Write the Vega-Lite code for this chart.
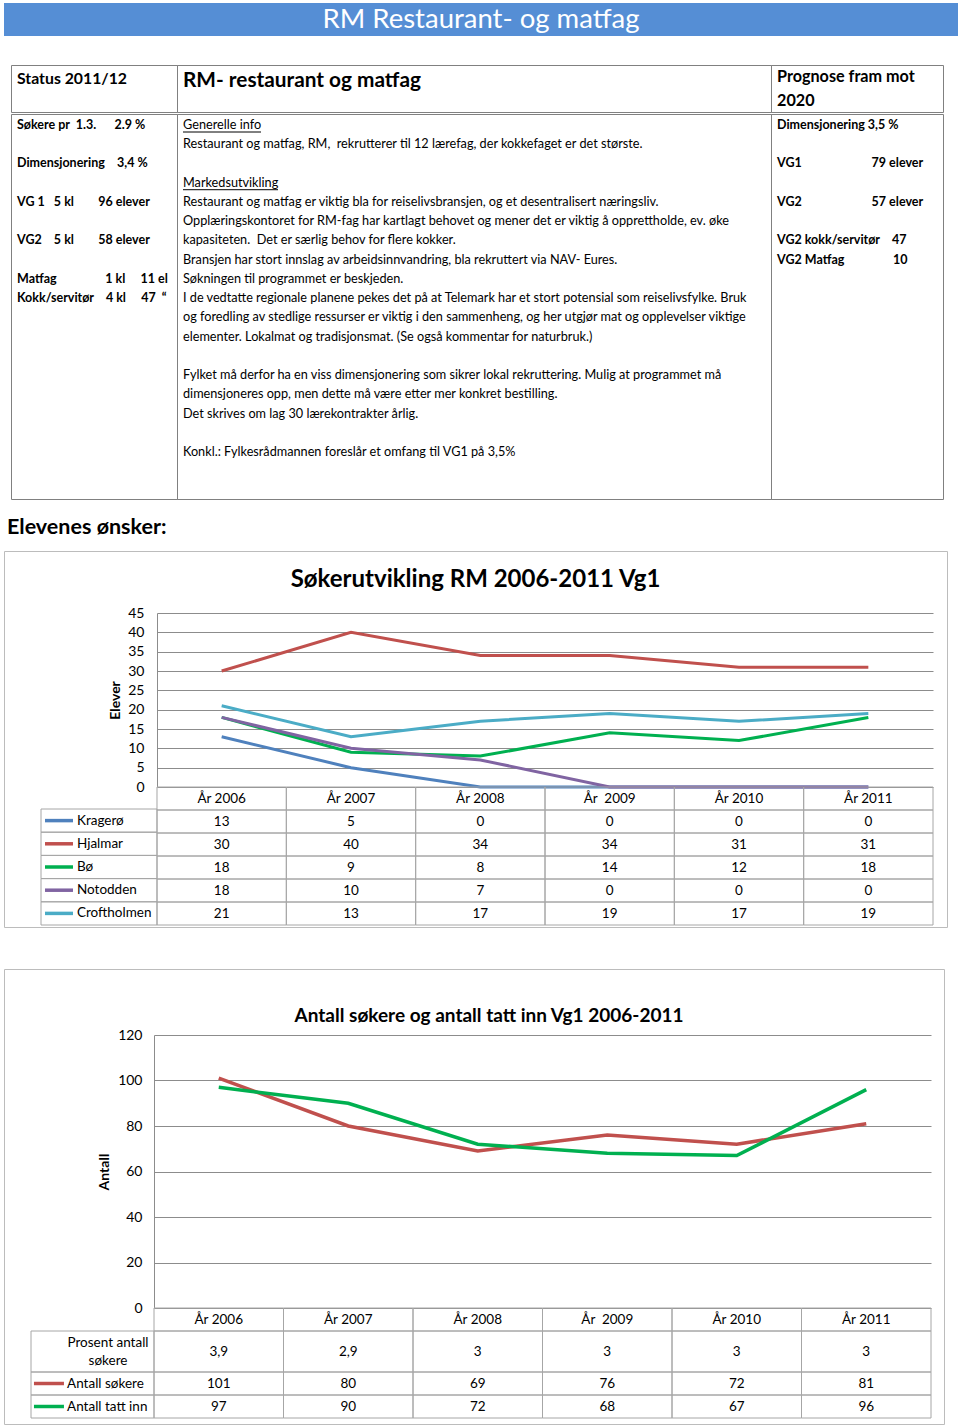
{
  "$schema": "https://vega.github.io/schema/vega-lite/v6.json",
  "padding": {"left": 3, "top": 3, "right": 0, "bottom": 0},
  "background": "white",
  "spacing": 0,
  "resolve": {"scale": {"color": "independent", "x": "independent", "y": "independent"}},
  "datasets": {
    "years": [
      {"year": "År 2006"}, {"year": "År 2007"}, {"year": "År 2008"},
      {"year": "År\u00a0 2009"}, {"year": "År 2010"}, {"year": "År 2011"}
    ],
    "c1": [
      {"year": "År 2006", "school": "Kragerø", "value": 13},
      {"year": "År 2007", "school": "Kragerø", "value": 5},
      {"year": "År 2008", "school": "Kragerø", "value": 0},
      {"year": "År\u00a0 2009", "school": "Kragerø", "value": 0},
      {"year": "År 2010", "school": "Kragerø", "value": 0},
      {"year": "År 2011", "school": "Kragerø", "value": 0},
      {"year": "År 2006", "school": "Hjalmar", "value": 30},
      {"year": "År 2007", "school": "Hjalmar", "value": 40},
      {"year": "År 2008", "school": "Hjalmar", "value": 34},
      {"year": "År\u00a0 2009", "school": "Hjalmar", "value": 34},
      {"year": "År 2010", "school": "Hjalmar", "value": 31},
      {"year": "År 2011", "school": "Hjalmar", "value": 31},
      {"year": "År 2006", "school": "Bø", "value": 18},
      {"year": "År 2007", "school": "Bø", "value": 9},
      {"year": "År 2008", "school": "Bø", "value": 8},
      {"year": "År\u00a0 2009", "school": "Bø", "value": 14},
      {"year": "År 2010", "school": "Bø", "value": 12},
      {"year": "År 2011", "school": "Bø", "value": 18},
      {"year": "År 2006", "school": "Notodden", "value": 18},
      {"year": "År 2007", "school": "Notodden", "value": 10},
      {"year": "År 2008", "school": "Notodden", "value": 7},
      {"year": "År\u00a0 2009", "school": "Notodden", "value": 0},
      {"year": "År 2010", "school": "Notodden", "value": 0},
      {"year": "År 2011", "school": "Notodden", "value": 0},
      {"year": "År 2006", "school": "Croftholmen", "value": 21},
      {"year": "År 2007", "school": "Croftholmen", "value": 13},
      {"year": "År 2008", "school": "Croftholmen", "value": 17},
      {"year": "År\u00a0 2009", "school": "Croftholmen", "value": 19},
      {"year": "År 2010", "school": "Croftholmen", "value": 17},
      {"year": "År 2011", "school": "Croftholmen", "value": 19}
    ],
    "schools": [
      {"school": "Kragerø"}, {"school": "Hjalmar"}, {"school": "Bø"},
      {"school": "Notodden"}, {"school": "Croftholmen"}
    ],
    "c2": [
      {"year": "År 2006", "series": "Antall søkere", "value": 101},
      {"year": "År 2007", "series": "Antall søkere", "value": 80},
      {"year": "År 2008", "series": "Antall søkere", "value": 69},
      {"year": "År\u00a0 2009", "series": "Antall søkere", "value": 76},
      {"year": "År 2010", "series": "Antall søkere", "value": 72},
      {"year": "År 2011", "series": "Antall søkere", "value": 81},
      {"year": "År 2006", "series": "Antall tatt inn", "value": 97},
      {"year": "År 2007", "series": "Antall tatt inn", "value": 90},
      {"year": "År 2008", "series": "Antall tatt inn", "value": 72},
      {"year": "År\u00a0 2009", "series": "Antall tatt inn", "value": 68},
      {"year": "År 2010", "series": "Antall tatt inn", "value": 67},
      {"year": "År 2011", "series": "Antall tatt inn", "value": 96}
    ],
    "pct": [
      {"year": "År 2006", "pct": 3.9},
      {"year": "År 2007", "pct": 2.9},
      {"year": "År 2008", "pct": 3},
      {"year": "År\u00a0 2009", "pct": 3},
      {"year": "År 2010", "pct": 3},
      {"year": "År 2011", "pct": 3}
    ],
    "series2": [{"series": "Antall søkere"}, {"series": "Antall tatt inn"}],
    "pctlabel": [{"label": ["Prosent antall", "søkere"]}]
  },
  "vconcat": [
    {
      "width": 954, "height": 33,
      "view": {"fill": "#558ED5", "stroke": null},
      "data": {"values": [{"t": "RM Restaurant- og matfag"}]},
      "mark": {"type": "text", "color": "#ffffff", "fontSize": 27.5, "baseline": "middle"},
      "encoding": {"text": {"field": "t"}}
    },
    {"width": 10, "height": 28, "view": {"fill": "#ffffff"}, "data": {"values": []}, "mark": {"type": "point", "opacity": 0}},
    {
      "spacing": 0,
      "hconcat": [
        {"width": 6, "height": 432, "view": {"fill": "#ffffff"}, "data": {"values": []}, "mark": {"type": "point", "opacity": 0}},
        {
          "spacing": 0,
          "vconcat": [
            {
              "spacing": 0, "bounds": "flush",
              "hconcat": [
                {
                  "width": 166, "height": 47, "view": {"stroke": "#808080"},
                  "data": {"values": [{"line": 0, "text": "Status 2011/12"}]},
                  "mark": {"type": "text", "align": "left", "baseline": "middle", "x": 6, "fontSize": 15.8, "fontWeight": "bold"},
                  "encoding": {
                    "y": {"field": "line", "type": "quantitative", "scale": {"domain": [0, 1], "range": [14, 39]}, "axis": null},
                    "text": {"field": "text"}
                  }
                },
                {
                  "width": 594, "height": 47, "view": {"stroke": "#808080"},
                  "data": {"values": [{"line": 0, "text": "RM- restaurant og matfag"}]},
                  "mark": {"type": "text", "align": "left", "baseline": "middle", "x": 6, "fontSize": 20.8, "fontWeight": "bold"},
                  "encoding": {
                    "y": {"field": "line", "type": "quantitative", "scale": {"domain": [0, 1], "range": [16, 41]}, "axis": null},
                    "text": {"field": "text"}
                  }
                },
                {
                  "width": 172, "height": 47, "view": {"stroke": "#808080"},
                  "data": {"values": [{"line": 0, "text": "Prognose fram mot"}, {"line": 1, "text": "2020"}]},
                  "mark": {"type": "text", "align": "left", "baseline": "middle", "x": 6, "fontSize": 16.2, "fontWeight": "bold"},
                  "encoding": {
                    "y": {"field": "line", "type": "quantitative", "scale": {"domain": [0, 1], "range": [12, 36]}, "axis": null},
                    "text": {"field": "text"}
                  }
                }
              ]
            },
            {
              "spacing": 0, "bounds": "flush",
              "hconcat": [
                {
                  "width": 166, "height": 385, "view": {"stroke": "#808080"},
                  "data": {"values": [
                    {"line": 0, "text": "Søkere pr\u00a0\u00a01.3.\u00a0\u00a0\u00a0\u00a0\u00a0\u00a02.9 %"},
                    {"line": 2, "text": "Dimensjonering\u00a0\u00a0\u00a0\u00a03,4 %"},
                    {"line": 4, "text": "VG 1\u00a0\u00a0\u00a05 kl\u00a0\u00a0\u00a0\u00a0\u00a0\u00a0\u00a0\u00a096 elever"},
                    {"line": 6, "text": "VG2\u00a0\u00a0\u00a0\u00a05 kl\u00a0\u00a0\u00a0\u00a0\u00a0\u00a0\u00a0\u00a058 elever"},
                    {"line": 8, "text": "Matfag\u00a0\u00a0\u00a0\u00a0\u00a0\u00a0\u00a0\u00a0\u00a0\u00a0\u00a0\u00a0\u00a0\u00a0\u00a0\u00a01 kl\u00a0\u00a0\u00a0\u00a0\u00a011 el"},
                    {"line": 9, "text": "Kokk/servitør\u00a0\u00a0\u00a0\u00a04 kl\u00a0\u00a0\u00a0\u00a0\u00a047\u00a0\u00a0“"}
                  ]},
                  "mark": {"type": "text", "align": "left", "baseline": "middle", "x": 6, "fontSize": 12.5, "fontWeight": "bold"},
                  "encoding": {
                    "y": {"field": "line", "type": "quantitative", "scale": {"domain": [0, 17], "range": [11, 338]}, "axis": null},
                    "text": {"field": "text"}
                  }
                },
                {
                  "width": 594, "height": 385, "view": {"stroke": "#808080"},
                  "encoding": {
                    "y": {"field": "line", "type": "quantitative", "scale": {"domain": [0, 17], "range": [11, 338], "nice": false, "zero": false}, "axis": null}
                  },
                  "layer": [
                    {
                      "data": {"values": [
                        {"line": 0, "text": "Generelle info"},
                        {"line": 1, "text": "Restaurant og matfag, RM,\u00a0 rekrutterer til 12 lærefag, der kokkefaget er det største."},
                        {"line": 3, "text": "Markedsutvikling"},
                        {"line": 4, "text": "Restaurant og matfag er viktig bla for reiselivsbransjen, og et desentralisert næringsliv."},
                        {"line": 5, "text": "Opplæringskontoret for RM-fag har kartlagt behovet og mener det er viktig å opprettholde, ev. øke"},
                        {"line": 6, "text": "kapasiteten.\u00a0 Det er særlig behov for flere kokker."},
                        {"line": 7, "text": "Bransjen har stort innslag av arbeidsinnvandring, bla rekruttert via NAV- Eures."},
                        {"line": 8, "text": "Søkningen til programmet er beskjeden."},
                        {"line": 9, "text": "I de vedtatte regionale planene pekes det på at Telemark har et stort potensial som reiselivsfylke. Bruk"},
                        {"line": 10, "text": "og foredling av stedlige ressurser er viktig i den sammenheng, og her utgjør mat og opplevelser viktige"},
                        {"line": 11, "text": "elementer. Lokalmat og tradisjonsmat. (Se også kommentar for naturbruk.)"},
                        {"line": 13, "text": "Fylket må derfor ha en viss dimensjonering som sikrer lokal rekruttering. Mulig at programmet må"},
                        {"line": 14, "text": "dimensjoneres opp, men dette må være etter mer konkret bestilling."},
                        {"line": 15, "text": "Det skrives om lag 30 lærekontrakter årlig."},
                        {"line": 17, "text": "Konkl.: Fylkesrådmannen foreslår et omfang til VG1 på 3,5%"}
                      ]},
                      "mark": {"type": "text", "align": "left", "baseline": "middle", "x": 6, "fontSize": 12.7},
                      "encoding": {"text": {"field": "text"}}
                    },
                    {
                      "data": {"values": [{"line": 0}]},
                      "mark": {"type": "rule", "x": 6, "x2": 84, "color": "#000000", "strokeWidth": 1},
                      "encoding": {"yOffset": {"value": 7}}
                    },
                    {
                      "data": {"values": [{"line": 3}]},
                      "mark": {"type": "rule", "x": 6, "x2": 101, "color": "#000000", "strokeWidth": 1},
                      "encoding": {"yOffset": {"value": 7}}
                    }
                  ]
                },
                {
                  "width": 172, "height": 385, "view": {"stroke": "#808080"},
                  "data": {"values": [
                    {"line": 0, "text": "Dimensjonering 3,5 %"},
                    {"line": 2, "text": "VG1\u00a0\u00a0\u00a0\u00a0\u00a0\u00a0\u00a0\u00a0\u00a0\u00a0\u00a0\u00a0\u00a0\u00a0\u00a0\u00a0\u00a0\u00a0\u00a0\u00a0\u00a0\u00a0\u00a079 elever"},
                    {"line": 4, "text": "VG2\u00a0\u00a0\u00a0\u00a0\u00a0\u00a0\u00a0\u00a0\u00a0\u00a0\u00a0\u00a0\u00a0\u00a0\u00a0\u00a0\u00a0\u00a0\u00a0\u00a0\u00a0\u00a0\u00a057 elever"},
                    {"line": 6, "text": "VG2 kokk/servitør\u00a0\u00a0\u00a0\u00a047"},
                    {"line": 7, "text": "VG2 Matfag\u00a0\u00a0\u00a0\u00a0\u00a0\u00a0\u00a0\u00a0\u00a0\u00a0\u00a0\u00a0\u00a0\u00a0\u00a0\u00a010"}
                  ]},
                  "mark": {"type": "text", "align": "left", "baseline": "middle", "x": 6, "fontSize": 12.5, "fontWeight": "bold"},
                  "encoding": {
                    "y": {"field": "line", "type": "quantitative", "scale": {"domain": [0, 17], "range": [11, 338]}, "axis": null},
                    "text": {"field": "text"}
                  }
                }
              ]
            }
          ]
        }
      ]
    },
    {
      "width": 300, "height": 50, "view": {"fill": "#ffffff"},
      "data": {"values": [{"t": "Elevenes ønsker:"}]},
      "mark": {"type": "text", "align": "left", "baseline": "middle", "x": 3, "y": 28, "fontSize": 21.5, "fontWeight": "bold"},
      "encoding": {"text": {"field": "t"}}
    },
    {
      "width": 943, "height": 376,
      "view": {"stroke": "#bcbcbc"},
      "resolve": {"scale": {"x": "independent", "y": "independent"}},
      "layer": [
        {
          "data": {"values": [{"t": "Søkerutvikling RM 2006-2011 Vg1"}]},
          "mark": {"type": "text", "fontSize": 24, "fontWeight": "bold", "baseline": "middle", "y": 29},
          "encoding": {"text": {"field": "t"}}
        },
        {
          "data": {"name": "c1"},
          "mark": {"type": "line", "strokeWidth": 3},
          "encoding": {
            "x": {"field": "year", "type": "nominal", "bandPosition": 0.5, "scale": {"type": "band", "domain": ["År 2006", "År 2007", "År 2008", "År\u00a0 2009", "År 2010", "År 2011"], "range": [153, 929], "paddingInner": 0, "paddingOuter": 0}, "axis": null},
            "y": {"field": "value", "type": "quantitative", "scale": {"domain": [0, 45], "range": [236, 62], "nice": false, "zero": false},
                  "axis": {"values": [0, 5, 10, 15, 20, 25, 30, 35, 40, 45], "grid": true, "offset": -153, "title": "Elever", "titlePadding": 5, "labelPadding": 13}},
            "color": {"field": "school", "type": "nominal", "scale": {"domain": ["Kragerø", "Hjalmar", "Bø", "Notodden", "Croftholmen"], "range": ["#4F81BD", "#C0504D", "#00B050", "#8064A2", "#4BACC6"]}, "legend": null}
          }
        },
        {
          "encoding": {
            "x": {"field": "year", "type": "nominal", "scale": {"type": "band", "domain": ["År 2006", "År 2007", "År 2008", "År\u00a0 2009", "År 2010", "År 2011"], "range": [153, 929], "paddingInner": 0, "paddingOuter": 0}, "axis": null}
          },
          "layer": [
            {
              "data": {"name": "years"},
              "mark": {"type": "rect", "fillOpacity": 0, "stroke": "#a6a6a6", "strokeWidth": 1},
              "encoding": {"y": {"datum": "hdr", "type": "nominal", "scale": {"type": "band", "domain": ["hdr", "Kragerø", "Hjalmar", "Bø", "Notodden", "Croftholmen"], "range": [236, 374], "paddingInner": 0, "paddingOuter": 0}, "axis": null}}
            },
            {
              "data": {"name": "years"},
              "mark": {"type": "text", "baseline": "middle"},
              "encoding": {"y": {"datum": "hdr", "type": "nominal"}, "text": {"field": "year"}}
            },
            {
              "data": {"name": "c1"},
              "mark": {"type": "rect", "fillOpacity": 0, "stroke": "#a6a6a6", "strokeWidth": 1},
              "encoding": {"y": {"field": "school", "type": "nominal"}}
            },
            {
              "data": {"name": "c1"},
              "mark": {"type": "text", "baseline": "middle"},
              "encoding": {"y": {"field": "school", "type": "nominal"}, "text": {"field": "value"}}
            }
          ]
        },
        {
          "data": {"name": "schools"},
          "encoding": {
            "y": {"field": "school", "type": "nominal", "scale": {"type": "band", "domain": ["Kragerø", "Hjalmar", "Bø", "Notodden", "Croftholmen"], "range": [258, 374], "paddingInner": 0, "paddingOuter": 0}, "axis": null}
          },
          "layer": [
            {
              "mark": {"type": "rect", "fillOpacity": 0, "stroke": "#a6a6a6", "strokeWidth": 1},
              "encoding": {"x": {"datum": "legend", "type": "nominal", "scale": {"type": "band", "domain": ["legend"], "range": [37, 153], "paddingInner": 0, "paddingOuter": 0}, "axis": null}}
            },
            {
              "mark": {"type": "point", "shape": "M-1,0L1,0", "size": 784, "strokeWidth": 3.5, "filled": false, "opacity": 1},
              "encoding": {
                "x": {"datum": "legend", "type": "nominal", "bandPosition": 0.155},
                "color": {"field": "school", "type": "nominal", "scale": {"domain": ["Kragerø", "Hjalmar", "Bø", "Notodden", "Croftholmen"], "range": ["#4F81BD", "#C0504D", "#00B050", "#8064A2", "#4BACC6"]}, "legend": null}
              }
            },
            {
              "mark": {"type": "text", "align": "left", "baseline": "middle"},
              "encoding": {"x": {"datum": "legend", "type": "nominal", "bandPosition": 0.31}, "text": {"field": "school"}}
            }
          ]
        }
      ]
    },
    {"width": 10, "height": 40, "view": {"fill": "#ffffff"}, "data": {"values": []}, "mark": {"type": "point", "opacity": 0}},
    {
      "width": 940, "height": 455,
      "view": {"stroke": "#bcbcbc"},
      "resolve": {"scale": {"x": "independent", "y": "independent"}},
      "layer": [
        {
          "data": {"values": [{"t": "Antall søkere og antall tatt inn Vg1 2006-2011"}]},
          "mark": {"type": "text", "fontSize": 19, "fontWeight": "bold", "baseline": "middle", "y": 47, "dx": 15},
          "encoding": {"text": {"field": "t"}}
        },
        {
          "data": {"name": "c2"},
          "mark": {"type": "line", "strokeWidth": 3.5},
          "encoding": {
            "x": {"field": "year", "type": "nominal", "bandPosition": 0.5, "scale": {"type": "band", "domain": ["År 2006", "År 2007", "År 2008", "År\u00a0 2009", "År 2010", "År 2011"], "range": [150, 927], "paddingInner": 0, "paddingOuter": 0}, "axis": null},
            "y": {"field": "value", "type": "quantitative", "scale": {"domain": [0, 120], "range": [339, 66], "nice": false, "zero": false},
                  "axis": {"values": [0, 20, 40, 60, 80, 100, 120], "grid": true, "offset": -150, "title": "Antall", "titlePadding": 6, "labelPadding": 12}},
            "color": {"field": "series", "type": "nominal", "scale": {"domain": ["Antall søkere", "Antall tatt inn"], "range": ["#C0504D", "#00B050"]}, "legend": null}
          }
        },
        {
          "data": {"name": "years"},
          "encoding": {
            "x": {"field": "year", "type": "nominal", "scale": {"type": "band", "domain": ["År 2006", "År 2007", "År 2008", "År\u00a0 2009", "År 2010", "År 2011"], "range": [150, 927], "paddingInner": 0, "paddingOuter": 0}, "axis": null},
            "y": {"datum": "hdr", "type": "nominal", "scale": {"type": "band", "domain": ["hdr"], "range": [339, 362], "paddingInner": 0, "paddingOuter": 0}, "axis": null}
          },
          "layer": [
            {"mark": {"type": "rect", "fillOpacity": 0, "stroke": "#a6a6a6", "strokeWidth": 1}},
            {"mark": {"type": "text", "baseline": "middle"}, "encoding": {"text": {"field": "year"}}}
          ]
        },
        {
          "data": {"name": "pct"},
          "encoding": {
            "x": {"field": "year", "type": "nominal", "scale": {"type": "band", "domain": ["År 2006", "År 2007", "År 2008", "År\u00a0 2009", "År 2010", "År 2011"], "range": [150, 927], "paddingInner": 0, "paddingOuter": 0}, "axis": null},
            "y": {"datum": "pct", "type": "nominal", "scale": {"type": "band", "domain": ["pct"], "range": [362, 403], "paddingInner": 0, "paddingOuter": 0}, "axis": null}
          },
          "layer": [
            {"mark": {"type": "rect", "fillOpacity": 0, "stroke": "#a6a6a6", "strokeWidth": 1}},
            {"mark": {"type": "text", "baseline": "middle"}, "encoding": {"text": {"field": "pct", "type": "quantitative", "format": ".1~f"}}}
          ]
        },
        {
          "data": {"name": "c2"},
          "encoding": {
            "x": {"field": "year", "type": "nominal", "scale": {"type": "band", "domain": ["År 2006", "År 2007", "År 2008", "År\u00a0 2009", "År 2010", "År 2011"], "range": [150, 927], "paddingInner": 0, "paddingOuter": 0}, "axis": null},
            "y": {"field": "series", "type": "nominal", "scale": {"type": "band", "domain": ["Antall søkere", "Antall tatt inn"], "range": [403, 449], "paddingInner": 0, "paddingOuter": 0}, "axis": null}
          },
          "layer": [
            {"mark": {"type": "rect", "fillOpacity": 0, "stroke": "#a6a6a6", "strokeWidth": 1}},
            {"mark": {"type": "text", "baseline": "middle"}, "encoding": {"text": {"field": "value"}}}
          ]
        },
        {
          "data": {"name": "pctlabel"},
          "encoding": {
            "x": {"datum": "legend", "type": "nominal", "scale": {"type": "band", "domain": ["legend"], "range": [27, 150], "paddingInner": 0, "paddingOuter": 0}, "axis": null},
            "y": {"datum": "pct", "type": "nominal", "scale": {"type": "band", "domain": ["pct"], "range": [362, 403], "paddingInner": 0, "paddingOuter": 0}, "axis": null}
          },
          "layer": [
            {"mark": {"type": "rect", "fillOpacity": 0, "stroke": "#a6a6a6", "strokeWidth": 1}},
            {"mark": {"type": "text", "baseline": "middle", "align": "center", "lineHeight": 18, "dy": -9}, "encoding": {"x": {"datum": "legend", "type": "nominal", "bandPosition": 0.626}, "text": {"field": "label"}}}
          ]
        },
        {
          "data": {"name": "series2"},
          "encoding": {
            "y": {"field": "series", "type": "nominal", "scale": {"type": "band", "domain": ["Antall søkere", "Antall tatt inn"], "range": [403, 449], "paddingInner": 0, "paddingOuter": 0}, "axis": null}
          },
          "layer": [
            {
              "mark": {"type": "rect", "fillOpacity": 0, "stroke": "#a6a6a6", "strokeWidth": 1},
              "encoding": {"x": {"datum": "legend", "type": "nominal", "scale": {"type": "band", "domain": ["legend"], "range": [27, 150], "paddingInner": 0, "paddingOuter": 0}, "axis": null}}
            },
            {
              "mark": {"type": "point", "shape": "M-1,0L1,0", "size": 900, "strokeWidth": 3.5, "filled": false, "opacity": 1},
              "encoding": {
                "x": {"datum": "legend", "type": "nominal", "bandPosition": 0.146},
                "color": {"field": "series", "type": "nominal", "scale": {"domain": ["Antall søkere", "Antall tatt inn"], "range": ["#C0504D", "#00B050"]}, "legend": null}
              }
            },
            {
              "mark": {"type": "text", "align": "left", "baseline": "middle"},
              "encoding": {"x": {"datum": "legend", "type": "nominal", "bandPosition": 0.293}, "text": {"field": "series"}}
            }
          ]
        }
      ]
    }
  ],
  "config": {
    "view": {"stroke": null},
    "font": "Lato",
    "text": {"font": "Lato", "fontSize": 13.5, "color": "#000000"},
    "axis": {
      "labelFont": "Lato", "labelFontSize": 14, "labelColor": "#000000",
      "titleFont": "Lato", "titleFontSize": 14, "titleFontWeight": "bold", "titleColor": "#000000",
      "domainColor": "#8c8c8c", "gridColor": "#8c8c8c", "gridOpacity": 1,
      "ticks": false, "tickSize": 0
    },
    "title": {"font": "Lato", "color": "#000000", "fontWeight": "bold"},
    "locale": {"number": {"decimal": ",", "thousands": ".", "grouping": [3], "currency": ["", " kr"]}}
  }
}
